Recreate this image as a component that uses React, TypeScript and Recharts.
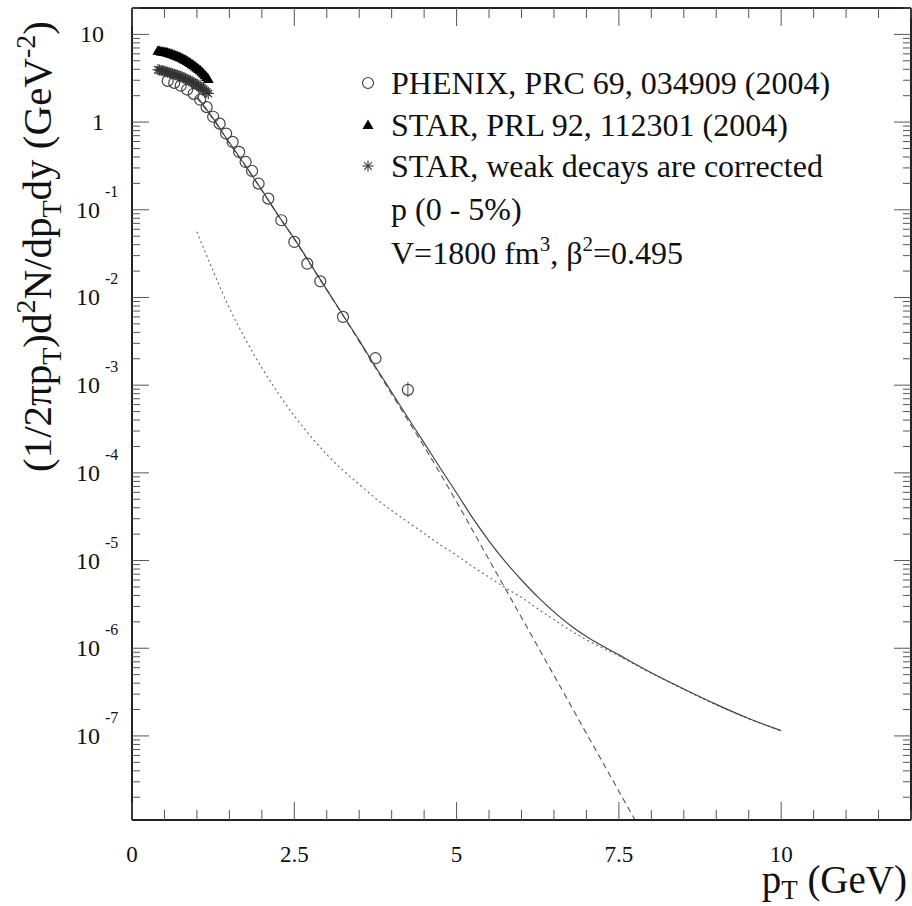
import React from 'react';
import { ComposedChart, Line, Scatter, XAxis, YAxis, ErrorBar, Customized } from 'recharts';

const FONT = '"Liberation Serif", "Times New Roman", serif';

// PHENIX, PRC 69, 034909 (2004), open circles
const phenixPt = [0.55, 0.65, 0.75, 0.85, 0.95, 1.05, 1.15, 1.25, 1.35, 1.45, 1.55, 1.65, 1.75, 1.85, 1.95, 2.1, 2.3, 2.5, 2.7, 2.9, 3.25, 3.75, 4.25];
const phenixYield = [2.95, 2.8, 2.6, 2.35, 2.1, 1.8, 1.48, 1.15, 0.96, 0.74, 0.594, 0.457, 0.351, 0.277, 0.199, 0.134, 0.076, 0.043, 0.0243, 0.0153, 0.006, 0.00203, 0.000885];
const phenixErrUp = [0, 0, 0, 0, 0, 0, 0, 0, 0, 0, 0, 0, 0, 0, 0, 0, 0, 0, 0, 0, 0, 0, 0.0002];
const phenixErrDown = [0, 0, 0, 0, 0, 0, 0, 0, 0, 0, 0, 0, 0, 0, 0, 0, 0, 0, 0, 0, 0, 0, 0.000165];

// STAR, PRL 92, 112301 (2004)
const starPt = [0.4, 0.425, 0.45, 0.475, 0.5, 0.525, 0.55, 0.575, 0.6, 0.625, 0.65, 0.675, 0.7, 0.725, 0.75, 0.775, 0.8, 0.825, 0.85, 0.875, 0.9, 0.925, 0.95, 0.975, 1.0, 1.025, 1.05, 1.075, 1.1, 1.125, 1.15, 1.175];
const starYield = [6.5, 6.45, 6.4, 6.35, 6.3, 6.24, 6.17, 6.1, 6.02, 5.93, 5.84, 5.75, 5.65, 5.55, 5.44, 5.33, 5.21, 5.09, 4.97, 4.84, 4.71, 4.58, 4.45, 4.31, 4.17, 4.03, 3.89, 3.74, 3.59, 3.43, 3.27, 3.1];
const starCorrYield = [3.95, 3.92, 3.88, 3.84, 3.8, 3.76, 3.71, 3.66, 3.61, 3.56, 3.51, 3.46, 3.41, 3.36, 3.3, 3.24, 3.18, 3.12, 3.06, 3.0, 2.94, 2.87, 2.8, 2.73, 2.66, 2.59, 2.52, 2.44, 2.36, 2.28, 2.2, 2.12];

// model curves
const curvePt = [1.0, 1.25, 1.5, 1.75, 2.0, 2.25, 2.5, 2.75, 3.0, 3.25, 3.5, 3.75, 4.0, 4.25, 4.5, 4.75, 5.0, 5.25, 5.5, 5.75, 6.0, 6.25, 6.5, 6.75, 7.0, 7.5, 8.0, 8.5, 9.0, 9.5, 10.0];
const totalYield = [1.95, 1.1, 0.582, 0.316, 0.168, 0.0871, 0.0468, 0.024, 0.0123, 0.00631, 0.00324, 0.00162, 8.3e-4, 4.25e-4, 2.2e-4, 1.13e-4, 5.9e-5, 3.04e-5, 1.67e-5, 9.7e-6, 6.0e-6, 3.85e-6, 2.6e-6, 1.83e-6, 1.36e-6, 8.4e-7, 5.25e-7, 3.43e-7, 2.29e-7, 1.58e-7, 1.15e-7];
const hardYield = [0.0562, 0.02, 7.59e-3, 3.31e-3, 1.58e-3, 8.13e-4, 4.47e-4, 2.63e-4, 1.62e-4, 1.07e-4, 7.41e-5, 5.13e-5, 3.72e-5, 2.75e-5, 2.04e-5, 1.51e-5, 1.15e-5, 8.51e-6, 6.46e-6, 4.9e-6, 3.8e-6, 2.82e-6, 2.12e-6, 1.6e-6, 1.25e-6, 8.2e-7, 5.19e-7, 3.39e-7, 2.26e-7, 1.57e-7, 1.14e-7];
const thermalPt = [1.0, 1.25, 1.5, 1.75, 2.0, 2.25, 2.5, 2.75, 3.0, 3.25, 3.5, 3.75, 4.0, 4.25, 4.5, 4.75, 5.0, 5.25, 5.5, 5.75, 6.0, 6.25, 6.5, 6.75, 7.0, 7.25, 7.5, 7.75];
const thermalYield = [1.89, 1.08, 0.574, 0.313, 0.166, 0.0863, 0.0462, 0.0237, 0.0122, 6.24e-3, 3.16e-3, 1.58e-3, 7.94e-4, 3.98e-4, 2.0e-4, 9.77e-5, 4.68e-5, 2.19e-5, 1.02e-5, 4.79e-6, 2.24e-6, 1.05e-6, 4.9e-7, 2.29e-7, 1.07e-7, 5.01e-8, 2.34e-8, 1.1e-8];

// axes
const xTicks = [0, 0.5, 1, 1.5, 2, 2.5, 3, 3.5, 4, 4.5, 5, 5.5, 6, 6.5, 7, 7.5, 8, 8.5, 9, 9.5, 10, 10.5, 11, 11.5, 12];
const xLabelled = [0, 2.5, 5, 7.5, 10];
const decadeExponents = [-8, -7, -6, -5, -4, -3, -2, -1, 0, 1];
const minorSteps = [2, 3, 4, 5, 6, 7, 8, 9];
const Y_MIN = 1.1e-8;
const Y_MAX = 20;

const yTicks: number[] = [];
decadeExponents.forEach((e) => {
  [1, ...minorSteps].forEach((m) => {
    const v = m * Math.pow(10, e);
    if (v >= Y_MIN && v <= Y_MAX) yTicks.push(v);
  });
});

const phenixData = phenixPt.map((pt, i) => ({ pt, v: phenixYield[i], err: [phenixErrDown[i], phenixErrUp[i]] }));
const starData = starPt.map((pt, i) => ({ pt, v: starYield[i] }));
const starCorrData = starPt.map((pt, i) => ({ pt, v: starCorrYield[i] }));
const totalData = curvePt.map((pt, i) => ({ pt, v: totalYield[i] }));
const hardData = curvePt.map((pt, i) => ({ pt, v: hardYield[i] }));
const thermalData = thermalPt.map((pt, i) => ({ pt, v: thermalYield[i] }));

const isDecade = (v: number) => decadeExponents.some((e) => Math.abs(v / Math.pow(10, e) - 1) < 1e-6);
const isLabelledX = (v: number) => xLabelled.includes(v);

const TICK = '#555';
const AXIS = '#222';

const BottomTick = (p: any) => {
  const { x, y, payload } = p;
  const major = isLabelledX(payload.value);
  return (
    <g>
      <line x1={x} y1={y} x2={x} y2={y - (major ? 18 : 10)} stroke={TICK} strokeWidth={1} />
      {major && (
        <text x={x} y={y + 42} textAnchor="middle" fontSize={23} fontFamily={FONT} fill="#111">
          {String(payload.value)}
        </text>
      )}
    </g>
  );
};

const TopTick = (p: any) => {
  const { x, y, payload } = p;
  const major = isLabelledX(payload.value);
  return <line x1={x} y1={y} x2={x} y2={y + (major ? 18 : 10)} stroke={TICK} strokeWidth={1} />;
};

const LeftTick = (p: any) => {
  const { x, y, payload } = p;
  const v = payload.value;
  const major = isDecade(v);
  const exp = Math.round(Math.log10(v));
  return (
    <g>
      <line x1={x} y1={y} x2={x + (major ? 17 : 8)} y2={y} stroke={TICK} strokeWidth={1} />
      {major && exp >= 0 && (
        <text x={x - 28} y={y + 8} textAnchor="end" fontSize={24} fontFamily={FONT} fill="#111">
          {exp === 0 ? '1' : '10'}
        </text>
      )}
      {major && exp < 0 && (
        <g fontFamily={FONT} fill="#111">
          <text x={x - 32} y={y + 8} textAnchor="end" fontSize={24}>10</text>
          <text x={x - 27} y={y - 13} fontSize={16}>{String(exp)}</text>
        </g>
      )}
    </g>
  );
};

const RightTick = (p: any) => {
  const { x, y, payload } = p;
  const major = isDecade(payload.value);
  return <line x1={x} y1={y} x2={x - (major ? 17 : 8)} y2={y} stroke={TICK} strokeWidth={1} />;
};

const OpenCircle = (p: any) => (
  <circle cx={p.cx} cy={p.cy} r={5.5} fill="none" stroke="#444" strokeWidth={1.2} />
);

const Triangle = (p: any) => (
  <path d={`M${p.cx},${p.cy - 5.5} L${p.cx + 5.5},${p.cy + 4} L${p.cx - 5.5},${p.cy + 4} Z`} fill="#000" />
);

const Asterisk = (p: any) => {
  const { cx, cy } = p;
  const r = 5.5;
  const d = r * 0.707;
  return (
    <g stroke="#333" strokeWidth={1.1}>
      <line x1={cx - r} y1={cy} x2={cx + r} y2={cy} />
      <line x1={cx} y1={cy - r} x2={cx} y2={cy + r} />
      <line x1={cx - d} y1={cy - d} x2={cx + d} y2={cy + d} />
      <line x1={cx - d} y1={cy + d} x2={cx + d} y2={cy - d} />
    </g>
  );
};

const Annotations = () => (
  <g fontFamily={FONT} fill="#111">
    <text transform="rotate(-90)" x={-472} y={51} fontSize={41}>
      (1/2πp<tspan dy={10} fontSize={28}>T</tspan>
      <tspan dy={-10}>)d</tspan>
      <tspan dy={-16} fontSize={28}>2</tspan>
      <tspan dy={16}>N/dp</tspan>
      <tspan dy={10} fontSize={28}>T</tspan>
      <tspan dy={-10}>dy (GeV</tspan>
      <tspan dy={-16} fontSize={28}>-2</tspan>
      <tspan dy={16}>)</tspan>
    </text>
    <text x={907} y={893} textAnchor="end" fontSize={39}>
      p<tspan dy={6} fontSize={27}>T</tspan>
      <tspan dy={-6}> (GeV)</tspan>
    </text>

    <OpenCircle cx={368} cy={83} />
    <text x={391} y={94} fontSize={32}>PHENIX, PRC 69, 034909 (2004)</text>
    <Triangle cx={368} cy={125} />
    <text x={391} y={136} fontSize={32}>STAR, PRL 92, 112301 (2004)</text>
    <Asterisk cx={368} cy={166} />
    <text x={391} y={177} fontSize={32}>STAR, weak decays are corrected</text>
    <text x={391} y={220} fontSize={32}>p (0 - 5%)</text>
    <text x={391} y={264} fontSize={32}>
      V=1800 fm<tspan dy={-13} fontSize={21}>3</tspan>
      <tspan dy={13}>, β</tspan>
      <tspan dy={-13} fontSize={21}>2</tspan>
      <tspan dy={13}>=0.495</tspan>
    </text>
  </g>
);

export default function App() {
  return (
    <div style={{ position: 'absolute', left: 0, top: 0, background: '#fff' }}>
      <ComposedChart width={912} height={906} margin={{ top: 7, right: 0, bottom: 26, left: 32 }}>
        <XAxis
          xAxisId="b"
          dataKey="pt"
          type="number"
          domain={[0, 12]}
          ticks={xTicks}
          interval={0}
          allowDataOverflow
          height={60}
          tickSize={0}
          tickMargin={0}
          tickLine={false}
          axisLine={{ stroke: AXIS, strokeWidth: 2 }}
          tick={BottomTick}
        />
        <XAxis
          xAxisId="t"
          orientation="top"
          dataKey="pt"
          type="number"
          domain={[0, 12]}
          ticks={xTicks}
          interval={0}
          allowDataOverflow
          height={1}
          tickSize={0}
          tickMargin={0}
          tickLine={false}
          axisLine={{ stroke: AXIS, strokeWidth: 2 }}
          tick={TopTick}
        />
        <YAxis
          yAxisId="l"
          dataKey="v"
          type="number"
          scale="log"
          domain={[Y_MIN, Y_MAX]}
          ticks={yTicks}
          interval={0}
          allowDataOverflow
          width={100}
          tickSize={0}
          tickMargin={0}
          tickLine={false}
          axisLine={{ stroke: AXIS, strokeWidth: 2 }}
          tick={LeftTick}
        />
        <YAxis
          yAxisId="r"
          orientation="right"
          dataKey="v"
          type="number"
          scale="log"
          domain={[Y_MIN, Y_MAX]}
          ticks={yTicks}
          interval={0}
          allowDataOverflow
          width={1}
          tickSize={0}
          tickMargin={0}
          tickLine={false}
          axisLine={{ stroke: AXIS, strokeWidth: 2 }}
          tick={RightTick}
        />

        <Scatter xAxisId="b" yAxisId="l" data={phenixData} dataKey="v" shape={OpenCircle} isAnimationActive={false}>
          <ErrorBar dataKey="err" direction="y" width={0} stroke="#555" strokeWidth={1} />
        </Scatter>
        <Scatter xAxisId="b" yAxisId="l" data={starCorrData} dataKey="v" shape={Asterisk} isAnimationActive={false} />
        <Scatter xAxisId="b" yAxisId="l" data={starData} dataKey="v" shape={Triangle} isAnimationActive={false} />

        <Line xAxisId="b" yAxisId="l" data={thermalData} dataKey="v" type="monotone" stroke="#555" strokeWidth={1.1} strokeDasharray="6 4" dot={false} isAnimationActive={false} />
        <Line xAxisId="b" yAxisId="l" data={hardData} dataKey="v" type="monotone" stroke="#666" strokeWidth={1.1} strokeDasharray="2 3" dot={false} isAnimationActive={false} />
        <Line xAxisId="b" yAxisId="l" data={totalData} dataKey="v" type="monotone" stroke="#444" strokeWidth={1.2} dot={false} isAnimationActive={false} />

        <Customized component={Annotations} />
      </ComposedChart>
    </div>
  );
}
